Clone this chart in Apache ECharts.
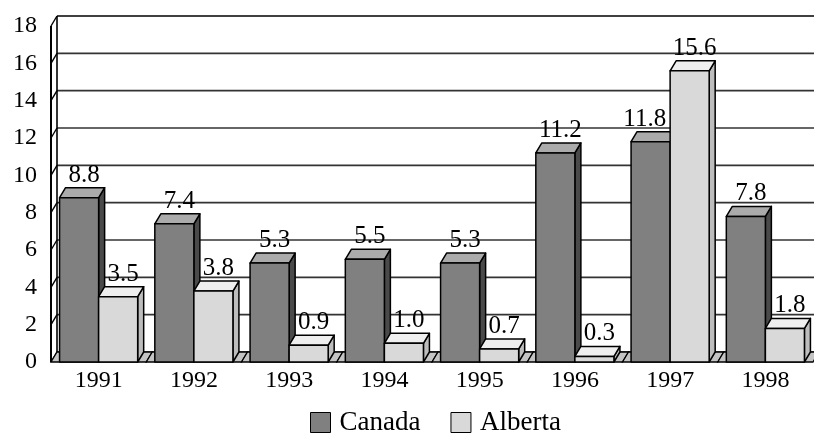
<!DOCTYPE html>
<html>
<head>
<meta charset="utf-8">
<script src="https://cdn.jsdelivr.net/npm/echarts@6/dist/echarts.min.js"></script>
<style>
  html, body { margin: 0; padding: 0; background: #fff; }
  #chart { width: 814px; height: 436px; }
</style>
</head>
<body>
<div id="chart"></div>
<script>
// Annual growth figures, Canada vs Alberta
const years = ['1991', '1992', '1993', '1994', '1995', '1996', '1997', '1998'];
const canada = [8.8, 7.4, 5.3, 5.5, 5.3, 11.2, 11.8, 7.8];
const alberta = [3.5, 3.8, 0.9, 1.0, 0.7, 0.3, 15.6, 1.8];
const yTicks = [0, 2, 4, 6, 8, 10, 12, 14, 16, 18];

// Oblique depth of the pseudo-3D boxes (pixels)
const DX = 6, DY = -10;
const FONT = 'Liberation Serif';
const LABEL_SIZE = 25;
const BAR_RATIO = 0.41;

const chart = echarts.init(document.getElementById('chart'), null, { renderer: 'canvas' });

const measureCtx = document.createElement('canvas').getContext('2d');
function textWidth(s, size) {
  measureCtx.font = size + 'px "' + FONT + '"';
  return measureCtx.measureText(s).width;
}

// Back wall gridlines plus the slanted ticks on the left wall
function renderGrid(params, api) {
  const v = api.value(1);
  const cs = params.coordSys;
  const y = api.coord([0, v])[1];
  const x0 = cs.x;
  const xr = cs.x + cs.width + DX + 20;
  const isTop = v === yTicks[yTicks.length - 1];
  const children = [
    { type: 'line', shape: { x1: x0 + DX, y1: y + DY, x2: xr, y2: y + DY },
      style: { stroke: isTop ? '#000' : '#333', lineWidth: 1.6 } },
    { type: 'line', shape: { x1: x0, y1: y, x2: x0 + DX, y2: y + DY },
      style: { stroke: '#000', lineWidth: 1.4 } }
  ];
  if (isTop) {
    const yb = api.coord([0, 0])[1];
    children.push(
      { type: 'line', shape: { x1: x0 + DX, y1: yb + DY, x2: x0 + DX, y2: y + DY },
        style: { stroke: '#000', lineWidth: 1.6 } },
      { type: 'line', shape: { x1: x0, y1: yb, x2: x0, y2: y },
        style: { stroke: '#000', lineWidth: 2 } }
    );
  }
  return { type: 'group', children };
}

// Floor strip under each category band
function renderFloor(params, api) {
  const c = api.coord([api.value(0), 0]);
  const band = api.size([1, 0])[0];
  const x0 = c[0] - band / 2, x1 = c[0] + band / 2, y = c[1];
  return {
    type: 'polygon',
    shape: { points: [[x0, y], [x1, y], [x1 + DX, y + DY], [x0 + DX, y + DY]] },
    style: { fill: '#c4c4c4', stroke: '#000', lineWidth: 1.3 }
  };
}

function barBox(api, idx, val, side) {
  const top = api.coord([idx, val]);
  const base = api.coord([idx, 0]);
  const w = api.size([1, 0])[0] * BAR_RATIO;
  const x0 = side === 0 ? top[0] - w : top[0];
  return { x0, x1: x0 + w, yt: top[1], yb: base[1], w };
}

function makeBarRenderer(side, colors) {
  return function (params, api) {
    const b = barBox(api, api.value(0), api.value(1), side);
    const stroke = { stroke: '#000', lineWidth: 1.5, lineJoin: 'round' };
    return {
      type: 'group',
      children: [
        { type: 'polygon',
          shape: { points: [[b.x1, b.yt], [b.x1 + DX, b.yt + DY], [b.x1 + DX, b.yb + DY], [b.x1, b.yb]] },
          style: Object.assign({ fill: colors.side }, stroke) },
        { type: 'polygon',
          shape: { points: [[b.x0, b.yt], [b.x1, b.yt], [b.x1 + DX, b.yt + DY], [b.x0 + DX, b.yt + DY]] },
          style: Object.assign({ fill: colors.top }, stroke) },
        { type: 'rect',
          shape: { x: b.x0, y: b.yt, width: b.w, height: b.yb - b.yt },
          style: Object.assign({ fill: colors.front }, stroke) }
      ]
    };
  };
}

// Value labels sit above each box; a Canada label is nudged left when the
// neighbouring Alberta box is taller so it does not run into it.
function makeLabelRenderer(side, values, others) {
  return function (params, api) {
    const idx = api.value(0);
    const val = api.value(1);
    const b = barBox(api, idx, val, side);
    const text = val.toFixed(1);
    let cx = (b.x0 + b.x1) / 2 + 5;
    if (side === 0 && others[idx] > val) {
      const half = textWidth(text, LABEL_SIZE) / 2;
      cx = Math.min(cx, b.x1 - 4 - half);
    }
    return {
      type: 'text',
      style: { text, x: cx, y: b.yt + DY, align: 'center', verticalAlign: 'bottom',
               fontSize: LABEL_SIZE, fontFamily: FONT, fill: '#000' }
    };
  };
}

const canadaColors = { front: '#808080', top: '#ababab', side: '#4a4a4a' };
const albertaColors = { front: '#d9d9d9', top: '#efefef', side: '#bdbdbd' };

chart.setOption({
  animation: false,
  backgroundColor: '#fff',
  textStyle: { fontFamily: FONT, color: '#000' },
  grid: { left: 51, right: 1, top: 26, bottom: 74, containLabel: false, outerBoundsMode: 'none' },
  xAxis: {
    type: 'category',
    data: years,
    axisLine: { show: false },
    axisTick: { show: false },
    splitLine: { show: false },
    axisLabel: { color: '#000', fontSize: 24, fontFamily: FONT, margin: 7 }
  },
  yAxis: {
    type: 'value',
    min: 0, max: 18, interval: 2,
    axisLine: { show: false },
    axisTick: { show: false },
    splitLine: { show: false },
    axisLabel: { color: '#000', fontSize: 24, fontFamily: FONT, margin: 14, padding: [0, 0, 6, 0] }
  },
  legend: {
    left: 305, top: 404,
    itemWidth: 20, itemHeight: 20, itemGap: 30,
    textStyle: { color: '#000', fontSize: 27, fontFamily: FONT, padding: [0, 0, 0, 4] },
    data: [
      { name: 'Canada', icon: 'rect', itemStyle: { color: canadaColors.front, borderColor: '#000', borderWidth: 1 } },
      { name: 'Alberta', icon: 'rect', itemStyle: { color: albertaColors.front, borderColor: '#000', borderWidth: 1 } }
    ]
  },
  series: [
    { name: 'grid', type: 'custom', renderItem: renderGrid, silent: true, z: 1,
      encode: { x: 0, y: 1 }, data: yTicks.map(v => [0, v]) },
    { name: 'floor', type: 'custom', renderItem: renderFloor, silent: true, z: 2,
      encode: { x: 0, y: 1 }, data: years.map((_, i) => [i, 0]) },
    { name: 'Canada', type: 'custom', renderItem: makeBarRenderer(0, canadaColors), z: 3,
      itemStyle: { color: canadaColors.front },
      encode: { x: 0, y: 1 }, data: canada.map((v, i) => [i, v]) },
    { name: 'Alberta', type: 'custom', renderItem: makeBarRenderer(1, albertaColors), z: 4,
      itemStyle: { color: albertaColors.front },
      encode: { x: 0, y: 1 }, data: alberta.map((v, i) => [i, v]) },
    { name: 'Canada values', type: 'custom', renderItem: makeLabelRenderer(0, canada, alberta), z: 5,
      silent: true, encode: { x: 0, y: 1 }, data: canada.map((v, i) => [i, v]) },
    { name: 'Alberta values', type: 'custom', renderItem: makeLabelRenderer(1, alberta, canada), z: 5,
      silent: true, encode: { x: 0, y: 1 }, data: alberta.map((v, i) => [i, v]) }
  ]
});
</script>
</body>
</html>
